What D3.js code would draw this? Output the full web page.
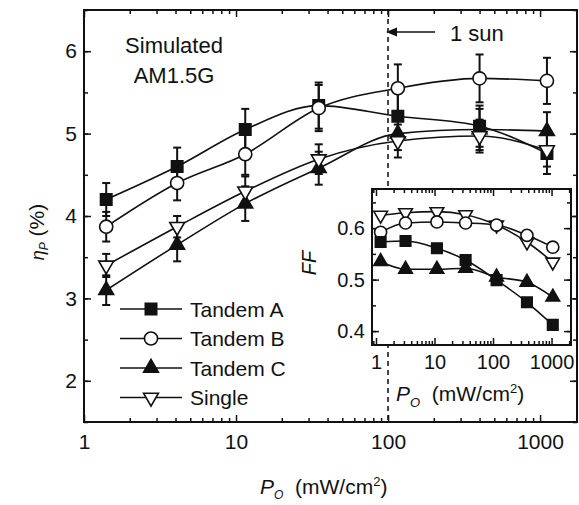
<!DOCTYPE html>
<html>
<head>
<meta charset="utf-8">
<script src="https://cdn.jsdelivr.net/npm/d3@7"></script>
<style>
  body { margin: 0; background: #fff; }
  text { font-family: "Liberation Sans", Arial, sans-serif; fill: #111; }
</style>
</head>
<body>
<svg id="chart"></svg>
<script>
// light intensity (mW/cm2) for each measurement
var powerMain = [1.4, 4.1, 11.5, 35, 116, 400, 1110];
var powerInset = [1.2, 3.2, 11, 34, 115, 380, 1050];

// power conversion efficiency (%)
var tandemA = [4.2, 4.6, 5.05, 5.34, 5.21, 5.09, 4.76];
var tandemB = [3.87, 4.4, 4.75, 5.31, 5.55, 5.67, 5.64];
var tandemC = [3.1, 3.65, 4.15, 4.58, 5.0, 5.05, 5.03];
var single = [3.4, 3.87, 4.3, 4.69, 4.91, 4.97, 4.8];

// error bar half-heights
var errA = [0.2, 0.23, 0.25, 0.28, 0.28, 0.25, 0.25];
var errB = [0.18, 0.21, 0.25, 0.28, 0.29, 0.29, 0.28];
var errC = [0.18, 0.2, 0.21, 0.2, 0.2, 0.25, 0.23];
var errS = [0.14, 0.13, 0.18, 0.18, 0.2, 0.2, 0.2];

// fill factor (inset)
var ffA = [0.573, 0.575, 0.561, 0.538, 0.499, 0.456, 0.412];
var ffB = [0.592, 0.61, 0.612, 0.61, 0.606, 0.586, 0.563];
var ffC = [0.535, 0.52, 0.52, 0.522, 0.505, 0.495, 0.466];
var ffS = [0.625, 0.63, 0.632, 0.626, 0.606, 0.573, 0.534];

var seriesNames = ['Tandem A', 'Tandem B', 'Tandem C', 'Single'];
var xTicksMain = [1, 10, 100, 1000];
var yTicksMain = [2, 3, 4, 5, 6];
var yTicksInset = [0.4, 0.5, 0.6];

var width = 579, height = 505;
var plot = {left: 84, right: 577, top: 10, bottom: 422};
var box = {left: 372, right: 571, top: 189, bottom: 345};

var svg = d3.select('#chart')
  .attr('width', width)
  .attr('height', height);

var x = d3.scaleLog().domain([1, 1750]).range([plot.left, plot.right]);
var y = d3.scaleLinear().domain([1.5, 6.5]).range([plot.bottom, plot.top]);

var xi = d3.scaleLog().domain([0.855, 2150]).range([box.left, box.right]);
var yi = d3.scaleLinear().domain([0.373, 0.676]).range([box.bottom, box.top]);

var markers = [
  {type: d3.symbolSquare, size: 130, fill: '#111', rot: 0},
  {type: d3.symbolCircle, size: 135, fill: '#fff', rot: 0},
  {type: d3.symbolTriangle, size: 95, fill: '#111', rot: 0},
  {type: d3.symbolTriangle, size: 95, fill: '#fff', rot: 180}
];

function minorTicks(scale) {
  return scale.ticks().filter(function(t) {
    var m = t / Math.pow(10, Math.floor(Math.log10(t) + 1e-9));
    return Math.abs(m - 1) > 1e-6;
  });
}

function drawFrame(g, xs, ys, b, yMajor, yMinor, fontSize, xPad) {
  // bottom
  g.append('g').attr('transform', 'translate(0,' + b.bottom + ')')
    .call(d3.axisBottom(xs).tickValues(xTicksMain).tickSize(-7).tickPadding(xPad).tickFormat(d3.format('d')));
  g.append('g').attr('transform', 'translate(0,' + b.bottom + ')')
    .call(d3.axisBottom(xs).tickValues(minorTicks(xs)).tickSize(-4).tickFormat(''));
  // top
  g.append('g').attr('transform', 'translate(0,' + b.top + ')')
    .call(d3.axisTop(xs).tickValues(xTicksMain).tickSize(-7).tickFormat(''));
  g.append('g').attr('transform', 'translate(0,' + b.top + ')')
    .call(d3.axisTop(xs).tickValues(minorTicks(xs)).tickSize(-4).tickFormat(''));
  // left
  g.append('g').attr('transform', 'translate(' + b.left + ',0)')
    .call(d3.axisLeft(ys).tickValues(yMajor).tickSize(-7).tickPadding(7).tickFormat(d3.format('')));
  g.append('g').attr('transform', 'translate(' + b.left + ',0)')
    .call(d3.axisLeft(ys).tickValues(yMinor).tickSize(-4).tickFormat(''));
  // right
  g.append('g').attr('transform', 'translate(' + b.right + ',0)')
    .call(d3.axisRight(ys).tickValues(yMajor).tickSize(-7).tickFormat(''));
  g.append('g').attr('transform', 'translate(' + b.right + ',0)')
    .call(d3.axisRight(ys).tickValues(yMinor).tickSize(-4).tickFormat(''));

  g.selectAll('.domain').remove();
  g.selectAll('.tick line').attr('stroke', '#111').attr('stroke-width', 1.5);
  g.selectAll('.tick text')
    .style('font-size', fontSize + 'px')
    .attr('fill', '#111');

  g.append('rect')
    .attr('x', b.left).attr('y', b.top)
    .attr('width', b.right - b.left).attr('height', b.bottom - b.top)
    .attr('fill', 'none').attr('stroke', '#111').attr('stroke-width', 2);
}

function drawSeries(g, xs, ys, xv, vals, errs, m, scale) {
  var pts = vals.map(function(v, i) { return [xs(xv[i]), ys(v)]; });
  g.append('path')
    .attr('d', d3.line().curve(d3.curveMonotoneX)(pts))
    .attr('fill', 'none').attr('stroke', '#111').attr('stroke-width', 1.6);
  if (errs) {
    vals.forEach(function(v, i) {
      var cx = xs(xv[i]), y1 = ys(v + errs[i]), y2 = ys(v - errs[i]);
      g.append('line').attr('x1', cx).attr('x2', cx).attr('y1', y1).attr('y2', y2)
        .attr('stroke', '#111').attr('stroke-width', 2);
      [y1, y2].forEach(function(yy) {
        g.append('line').attr('x1', cx - 4).attr('x2', cx + 4).attr('y1', yy).attr('y2', yy)
          .attr('stroke', '#111').attr('stroke-width', 2);
      });
    });
  }
  g.selectAll(null)
    .data(pts)
    .enter()
    .append('path')
    .attr('d', d3.symbol().type(m.type).size(m.size * scale))
    .attr('transform', function(d) { return 'translate(' + d[0] + ',' + d[1] + ') rotate(' + m.rot + ')'; })
    .attr('fill', m.fill).attr('stroke', '#111').attr('stroke-width', 1.6);
}

// 1 sun reference line
svg.append('line')
  .attr('x1', x(100)).attr('x2', x(100))
  .attr('y1', plot.top).attr('y2', plot.bottom)
  .attr('stroke', '#444').attr('stroke-width', 2)
  .attr('stroke-dasharray', '5,4');

var main = svg.append('g');
drawFrame(main, x, y, plot, yTicksMain, d3.range(1.5, 6.6, 0.5), 21, 12);

var mainData = [tandemA, tandemB, tandemC, single];
var mainErr = [errA, errB, errC, errS];
mainData.forEach(function(vals, i) {
  drawSeries(main, x, y, powerMain, vals, mainErr[i], markers[i], 1);
});

// texts in main plot
svg.append('text').attr('x', 174).attr('y', 53).attr('text-anchor', 'middle')
  .style('font-size', '22px').text('Simulated');
svg.append('text').attr('x', 174).attr('y', 83).attr('text-anchor', 'middle')
  .style('font-size', '22px').text('AM1.5G');

svg.append('defs').append('marker')
  .attr('id', 'arrow').attr('viewBox', '0 0 10 10')
  .attr('refX', 1).attr('refY', 5)
  .attr('markerWidth', 7).attr('markerHeight', 7)
  .attr('orient', 'auto-start-reverse')
  .append('path').attr('d', 'M0,1 L10,5 L0,9 z').attr('fill', '#111');

svg.append('line')
  .attr('x1', 396).attr('x2', 435).attr('y1', 32).attr('y2', 32)
  .attr('stroke', '#111').attr('stroke-width', 1.6)
  .attr('marker-start', 'url(#arrow)');
svg.append('text').attr('x', 450).attr('y', 41)
  .style('font-size', '22px').text('1 sun');

// axis titles
var yl = svg.append('text')
  .attr('transform', 'translate(44,232) rotate(-90)')
  .attr('text-anchor', 'middle')
  .style('font-size', '21px');
yl.append('tspan').style('font-style', 'italic').style('font-size', '18px').text('η');
yl.append('tspan').attr('dy', 4).style('font-style', 'italic').style('font-size', '12px').text('P');
yl.append('tspan').attr('dy', -4).text(' (%)');

var xl = svg.append('text').attr('x', 260).attr('y', 494).style('font-size', '21px');
xl.append('tspan').style('font-style', 'italic').text('P');
xl.append('tspan').attr('dy', 5).style('font-style', 'italic').style('font-size', '12px').text('O');
xl.append('tspan').attr('dy', -5).text('\u00a0\u00a0(mW/cm');
xl.append('tspan').attr('dy', -8).style('font-size', '13px').text('2');
xl.append('tspan').attr('dy', 8).text(')');

// legend
var legend = svg.append('g');
seriesNames.forEach(function(name, i) {
  var ly = 309 + i * 29.5;
  legend.append('line').attr('x1', 120).attr('x2', 182).attr('y1', ly).attr('y2', ly)
    .attr('stroke', '#111').attr('stroke-width', 1.6);
  legend.append('path')
    .attr('d', d3.symbol().type(markers[i].type).size(markers[i].size))
    .attr('transform', 'translate(151,' + ly + ') rotate(' + markers[i].rot + ')')
    .attr('fill', markers[i].fill).attr('stroke', '#111').attr('stroke-width', 1.6);
  legend.append('text').attr('x', 190).attr('y', ly).attr('dy', '0.36em')
    .style('font-size', '21px').text(name);
});

// inset: fill factor
var ins = svg.append('g');
ins.append('rect')
  .attr('x', box.left).attr('y', box.top)
  .attr('width', box.right - box.left).attr('height', box.bottom - box.top)
  .attr('fill', '#fff');
drawFrame(ins, xi, yi, box, yTicksInset, d3.range(0.4, 0.66, 0.05), 20, 10);

var insetData = [ffA, ffB, ffC, ffS];
var order = [3, 1, 0, 2];
order.forEach(function(i) {
  drawSeries(ins, xi, yi, powerInset, insetData[i], null, markers[i], 0.85);
});

ins.append('text')
  .attr('transform', 'translate(316,263) rotate(-90)')
  .attr('text-anchor', 'middle')
  .style('font-size', '20px').style('font-style', 'italic').text('FF');

var il = ins.append('text').attr('x', 396).attr('y', 401).style('font-size', '21px');
il.append('tspan').style('font-style', 'italic').text('P');
il.append('tspan').attr('dy', 6).style('font-style', 'italic').style('font-size', '13px').text('O');
il.append('tspan').attr('dy', -6).text('\u00a0\u00a0(mW/cm');
il.append('tspan').attr('dy', -8).style('font-size', '13px').text('2');
il.append('tspan').attr('dy', 8).text(')');
</script>
</body>
</html>
